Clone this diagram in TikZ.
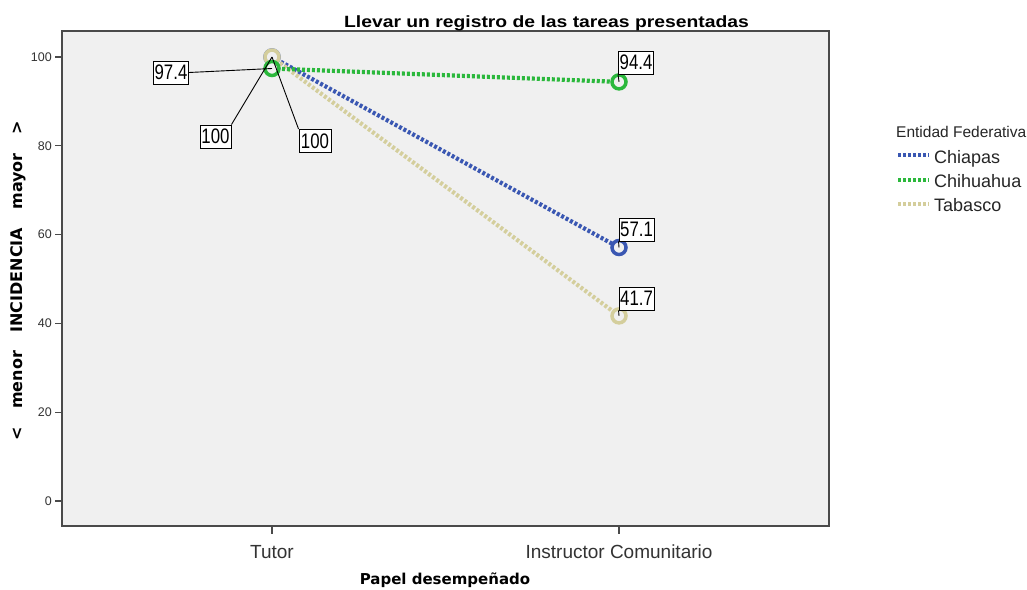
\documentclass[tikz,border=0pt]{standalone}
\usepackage{fontspec}
\usepackage{graphicx}
\setmainfont{Liberation Sans}
\newfontfamily\dvfont{DejaVu Sans}
\definecolor{plotbg}{HTML}{F0F0F0}
\definecolor{framec}{HTML}{4A4A4A}
\definecolor{cblue}{HTML}{3A57B2}
\definecolor{cgreen}{HTML}{2BB83C}
\definecolor{ctan}{HTML}{D4CE9C}
\tikzset{
  series/.style={line width=4.2pt, dash pattern=on 3pt off 2pt},
  marker/.style={circle, draw=#1, line width=3.5pt, fill=plotbg, minimum size=14pt, inner sep=0pt},
  vlabel/.style={draw=black, line width=0.9pt, fill=white, inner sep=0pt, minimum width=35pt, minimum height=23pt, font=\fontsize{21}{21}\selectfont},
  leader/.style={draw=black, line width=0.9pt},
  tick/.style={draw=framec, line width=1.3pt},
  ticklab/.style={font=\fontsize{12.5}{13}\selectfont, text=black!80, inner sep=0pt},
  catlab/.style={font=\fontsize{19}{20}\selectfont, text=black!80, inner sep=0pt},
  legtext/.style={font=\fontsize{18}{20}\selectfont, text=black!85, inner sep=0pt, anchor=base west}
}
\newcommand{\cond}[1]{\scalebox{0.8}[1]{#1}}
\begin{document}
\begin{tikzpicture}[x=1pt,y=-1pt]
\useasboundingbox (0,0) rectangle (1027,589);
\fill[white] (0,0) rectangle (1027,589);
% plot frame
\fill[plotbg] (62,31) rectangle (829,526);
\draw[framec, line width=1.5pt] (62,31) rectangle (829,526);
% y ticks
\foreach \v/\yy in {0/501,20/412.2,40/323.4,60/234.6,80/145.8,100/57}{
  \draw[tick] (55,\yy) -- (62,\yy);
  \node[ticklab, anchor=east] (t\v) at (52,\yy) {\v};
}
% x ticks
\draw[tick] (272,526) -- (272,534);
\draw[tick] (619,526) -- (619,534);
\node[catlab, anchor=base] (xtutor) at (272,558) {Tutor};
\node[catlab, anchor=base] (xinst) at (619,558) {Instructor Comunitario};
% title and axis titles
\node[font=\bfseries\fontsize{16.3}{16}\selectfont, anchor=base, inner sep=0pt] (title) at (546.5,27.5) {\scalebox{1.185}[1]{Llevar un registro de las tareas presentadas}};
\node[font=\dvfont\bfseries\fontsize{15}{16}\selectfont, anchor=base, inner sep=0pt] (xtitle) at (445,584) {Papel desempeñado};
\node[font=\dvfont\bfseries\fontsize{16}{16}\selectfont, inner sep=0pt, rotate=90] (ytitle) at (18,281) {<\hspace{1.15em}menor\hspace{1.15em}INCIDENCIA\hspace{1.15em}mayor\hspace{1.15em}>};
% data points
\coordinate (cT) at (272,57);
\coordinate (cI) at (619,247.5);
\coordinate (gT) at (272,68.5);
\coordinate (gI) at (619,81.9);
\coordinate (tT) at (272,57);
\coordinate (tI) at (619,315.9);
% series lines
\draw[series, cblue] (cT) -- (cI);
\draw[series, ctan] (tT) -- (tI);
\draw[series, cgreen] (gT) -- (gI);
% markers
\node[marker=cblue] (mcT) at (cT) {};
\node[marker=cblue] (mcI) at (cI) {};
\node[marker=ctan] (mtT) at (tT) {};
\node[marker=ctan] (mtI) at (tI) {};
\node[marker=cgreen] (mgT) at (gT) {};
\node[marker=cgreen] (mgI) at (gI) {};
% value labels
\node[vlabel] (l974) at (171,72.5) {\cond{97.4}};
\node[vlabel, minimum width=31pt] (l100a) at (215.5,136.5) {\cond{100}};
\node[vlabel, minimum width=32pt] (l100b) at (315,141) {\cond{100}};
\node[vlabel] (l944) at (636,62.5) {\cond{94.4}};
\node[vlabel] (l571) at (636.5,229.5) {\cond{57.1}};
\node[vlabel] (l417) at (636.5,298.5) {\cond{41.7}};
\draw[leader] (l974.east) -- (gT);
\draw[leader] (l100a.north east) -- (cT);
\draw[leader] (l100b.north west) -- (tT);
\draw[leader] (l944.south west) -- (gI);
\draw[leader] (l571.south west) -- (cI);
\draw[leader] (l417.south west) -- (tI);
\node[vlabel] at (l974) {\cond{97.4}};
\node[vlabel, minimum width=31pt] at (l100a) {\cond{100}};
\node[vlabel, minimum width=32pt] at (l100b) {\cond{100}};
\node[vlabel] at (l944) {\cond{94.4}};
\node[vlabel] at (l571) {\cond{57.1}};
\node[vlabel] at (l417) {\cond{41.7}};
% legend
\node[font=\fontsize{15.5}{16}\selectfont, text=black!85, inner sep=0pt, anchor=base west] (legtitle) at (896,137) {Entidad Federativa};
\coordinate (la1) at (898,155); \coordinate (lb1) at (929,155);
\coordinate (la2) at (898,180); \coordinate (lb2) at (929,180);
\coordinate (la3) at (898,204); \coordinate (lb3) at (929,204);
\draw[series, cblue] (la1) -- (lb1);
\draw[series, cgreen] (la2) -- (lb2);
\draw[series, ctan] (la3) -- (lb3);
\node[legtext] (leg1) at (934,163.5) {Chiapas};
\node[legtext] (leg2) at (934,187.5) {Chihuahua};
\node[legtext] (leg3) at (934,211) {Tabasco};
\end{tikzpicture}
\end{document}
